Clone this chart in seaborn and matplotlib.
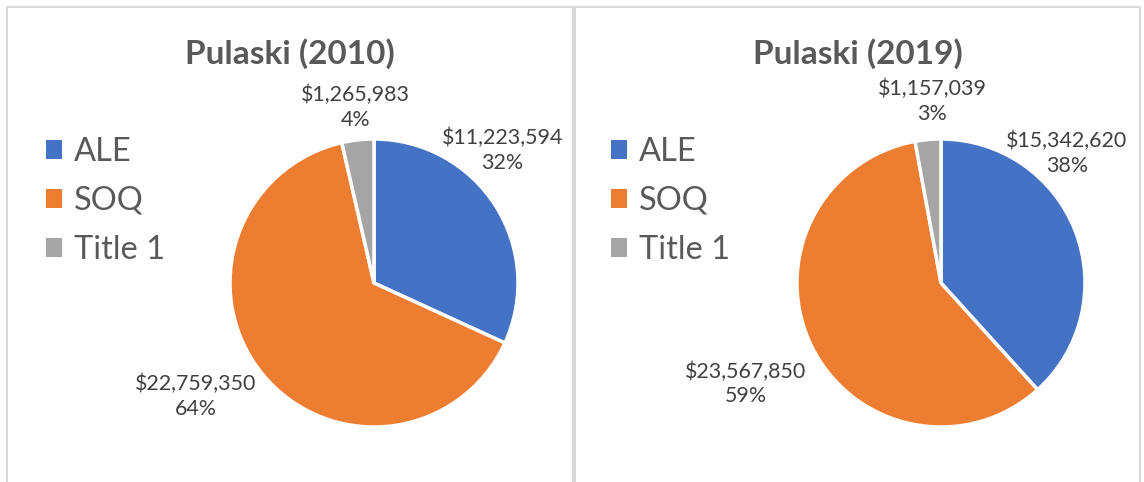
import matplotlib
matplotlib.use("Agg")
import matplotlib.pyplot as plt
import seaborn as sns
from matplotlib.patches import Rectangle

# Funding by source, Pulaski county
categories = ["ALE", "SOQ", "Title 1"]
funding_2010 = [11223594, 22759350, 1265983]
funding_2019 = [15342620, 23567850, 1157039]
# percentages as printed on the chart
pct_2010 = [32, 64, 4]
pct_2019 = [38, 59, 3]

sns.set_theme(style="white")
plt.rcParams["font.family"] = ["Lato", "DejaVu Sans"]
colors = ["#4472C4", "#ED7D31", "#A5A5A5"]

W, H = 1144, 482
fig = plt.figure(figsize=(W / 100, H / 100), dpi=100)

panels = [
    dict(title="Pulaski (2010)", vals=funding_2010, pcts=pct_2010,
         x0=7, x1=573, cx=374, cy=283, r=144, leg_x=46,
         label_xy=[(0.89, 0.92), (-1.24, -0.79), (-0.13, 1.22)]),
    dict(title="Pulaski (2019)", vals=funding_2019, pcts=pct_2019,
         x0=575, x1=1140, cx=941, cy=283, r=144, leg_x=611,
         label_xy=[(0.875, 0.90), (-1.355, -0.70), (-0.06, 1.26)]),
]

for p in panels:
    # panel border
    fig.add_artist(Rectangle((p["x0"] / W, -0.1), (p["x1"] - p["x0"]) / W,
                             (H - 7) / H + 0.1, transform=fig.transFigure,
                             fill=False, edgecolor="#D9D9D9", lw=1.5))
    # title
    fig.text((p["x0"] + p["x1"]) / 2 / W, 1 - 54 / H, p["title"],
             ha="center", va="center", fontsize=24, fontweight="bold",
             color="#595959")

    cx, cy, r = p["cx"], p["cy"], p["r"]
    ax = fig.add_axes([(cx - r) / W, (H - cy - r) / H, 2 * r / W, 2 * r / H])
    wedges, _ = ax.pie(p["vals"], colors=colors, startangle=90,
                       counterclock=False, radius=1,
                       wedgeprops=dict(edgecolor="white", linewidth=2.5))
    ax.set_xlim(-1, 1)
    ax.set_ylim(-1, 1)
    ax.set_aspect("equal")
    ax.axis("off")

    for v, pc, (lx, ly) in zip(p["vals"], p["pcts"], p["label_xy"]):
        ax.text(lx, ly, f"${v:,}\n{pc}%", ha="center", va="center",
                fontsize=15.4, color="#404040", linespacing=1.3)

    leg = ax.legend(wedges, categories, loc="upper left",
                    bbox_to_anchor=(p["leg_x"] / W, 1 - 137 / H),
                    bbox_transform=fig.transFigure, frameon=False,
                    fontsize=23.5, handlelength=0.5, handleheight=0.5,
                    handletextpad=0.35, labelspacing=0.58,
                    borderpad=0, borderaxespad=0)
    for t in leg.get_texts():
        t.set_color("#595959")
    for h in leg.legend_handles:
        h.set_edgecolor("none")

fig.savefig("out.png", dpi=100, facecolor="white")
